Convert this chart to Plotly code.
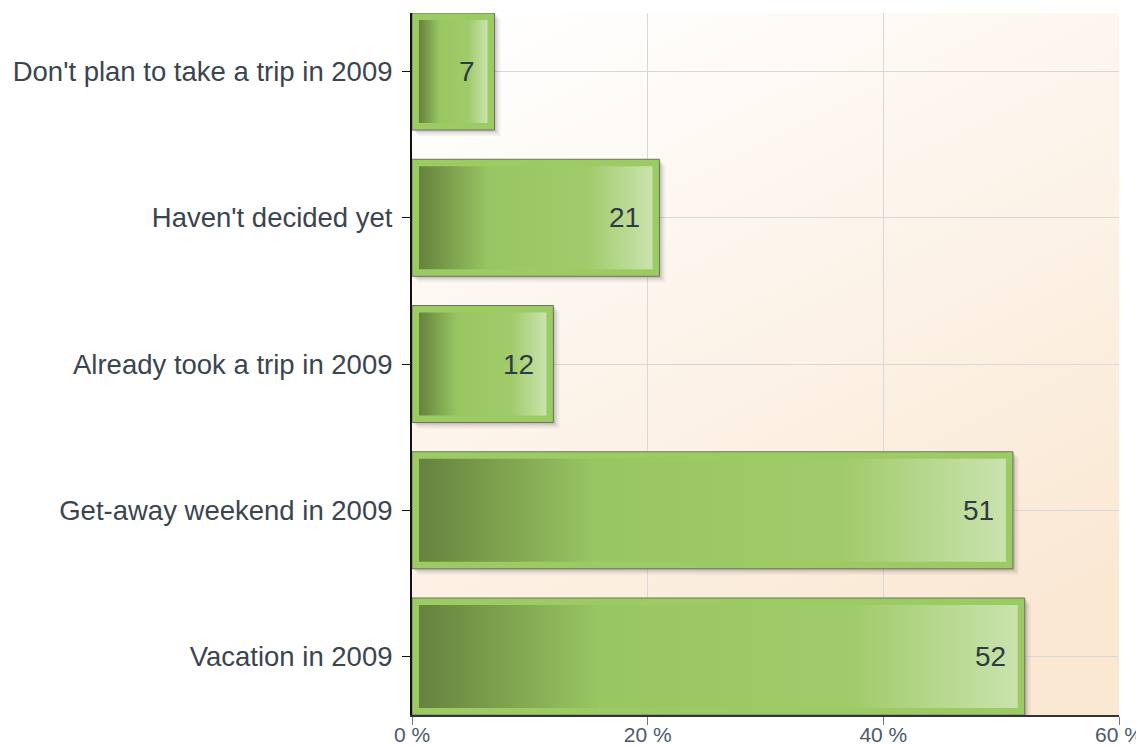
import base64
import plotly.graph_objects as go

# ---------------- data ----------------
categories = [
    "Don't plan to take a trip in 2009",
    "Haven't decided yet",
    "Already took a trip in 2009",
    "Get-away weekend in 2009",
    "Vacation in 2009",
]
values = [7, 21, 12, 51, 52]
x_tick_vals = [0, 20, 40, 60]
x_tick_text = ["0 %", "20 %", "40 %", "60 %"]

# ---------------- style ----------------
FONT = "Liberation Sans, Arial, sans-serif"
BAR_W = 0.8
X_RANGE = [0, 60]
Y_RANGE = [len(categories) - 0.6, -0.4]
FIG_W, FIG_H = 1136, 739          # page body adds an 8px offset
M_L, M_R, M_T, M_B = 404, 25, 5, 32
PLOT_W_PX = FIG_W - M_L - M_R
PLOT_H_PX = FIG_H - M_T - M_B
PX_X = (X_RANGE[1] - X_RANGE[0]) / PLOT_W_PX
PX_Y = abs(Y_RANGE[0] - Y_RANGE[1]) / PLOT_H_PX

FRAME_COLOR = "#9ccb64"
OUTLINE_COLOR = "#6c7462"
GRADIENT = [[0.0, "#66823d"], [0.3, "#98c662"], [0.72, "#a0cb6a"], [1.0, "#c9e3ad"]]

ypos = list(range(len(categories)))
fig = go.Figure()

# soft drop shadows (bar traces, drawn before the bars themselves)
for k, a in [(6, 0.05), (4, 0.08), (2, 0.14)]:
    fig.add_trace(go.Bar(
        x=values, y=ypos, base=[k * PX_X] * len(values), orientation="h",
        width=BAR_W, offset=-BAR_W / 2 + k * PX_Y,
        marker=dict(color=f"rgba(40,40,40,{a})", line=dict(width=0)),
        hoverinfo="skip", showlegend=False))

# bar frames
fig.add_trace(go.Bar(
    x=values, y=ypos, orientation="h", width=BAR_W,
    marker=dict(color=FRAME_COLOR, line=dict(color=OUTLINE_COLOR, width=1)),
    hoverinfo="skip", showlegend=False))

# gradient inner part of each bar
INSET = 7
for i, v in enumerate(values):
    ix, iy = INSET * PX_X, INSET * PX_Y
    x0, x1 = ix, v - ix
    y0, y1 = i - BAR_W / 2 + iy, i + BAR_W / 2 - iy
    fig.add_trace(go.Scatter(
        x=[x0, x1, x1, x0, x0], y=[y0, y0, y1, y1, y0],
        fill="toself", mode="lines", line=dict(width=0),
        fillgradient=dict(type="horizontal", colorscale=GRADIENT),
        hoverinfo="skip", showlegend=False))

# value labels
for i, v in enumerate(values):
    fig.add_annotation(x=v, y=i, text=str(v), showarrow=False, xanchor="right",
                       xshift=-17, font=dict(family=FONT, size=28, color="#2f3a44"))

# background gradient for the plot area
svg = ('<svg xmlns="http://www.w3.org/2000/svg" width="100" height="100" '
       'viewBox="0 0 100 100" preserveAspectRatio="none">'
       '<defs><linearGradient id="g" x1="0.1" y1="0" x2="0.6" y2="1">'
       '<stop offset="0" stop-color="#ffffff"/>'
       '<stop offset="1" stop-color="#fae8d3"/>'
       '</linearGradient></defs>'
       '<rect width="100" height="100" fill="url(#g)"/></svg>')
src = "data:image/svg+xml;base64," + base64.b64encode(svg.encode()).decode()

fig.update_layout(
    width=FIG_W, height=FIG_H,
    margin=dict(l=M_L, r=M_R, t=M_T, b=M_B, autoexpand=False),
    paper_bgcolor="white", plot_bgcolor="rgba(0,0,0,0)",
    font=dict(family=FONT),
    barmode="overlay",
    images=[dict(source=src, xref="x domain", yref="y domain", x=0, y=1,
                 sizex=1, sizey=1, xanchor="left", yanchor="top",
                 sizing="stretch", layer="below")],
    xaxis=dict(range=X_RANGE, tickvals=x_tick_vals, ticktext=x_tick_text,
               automargin=False, ticklabelstandoff=-8, ticklabeloverflow="allow",
               showgrid=True, gridcolor="#d8d8d8", zeroline=False,
               showline=True, linecolor="#333333", linewidth=1.5,
               ticks="outside", ticklen=8, tickcolor="#777777",
               tickfont=dict(family=FONT, size=21, color="#4a5a6c")),
    yaxis=dict(range=Y_RANGE, tickvals=ypos, ticktext=categories,
               automargin=False, ticklabelstandoff=4,
               showgrid=True, gridcolor="#d8d8d8", zeroline=False,
               showline=True, linecolor="#111111", linewidth=2,
               ticks="outside", ticklen=8, tickcolor="#111111",
               tickfont=dict(family=FONT, size=27.5, color="#3b4550")),
)

fig.write_html("out.html")
